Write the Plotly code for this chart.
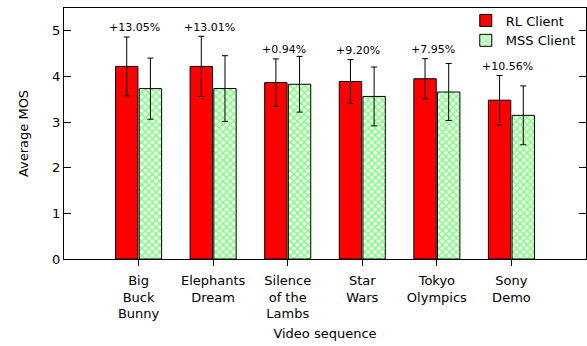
import plotly.graph_objects as go

# Average MOS per video sequence, with standard deviation
videos = ["Big<br>Buck<br>Bunny", "Elephants<br>Dream", "Silence<br>of the<br>Lambs",
          "Star<br>Wars", "Tokyo<br>Olympics", "Sony<br>Demo"]
positions = [1, 2, 3, 4, 5, 6]
rl_mos = [4.22, 4.22, 3.865, 3.89, 3.95, 3.48]
rl_std = [0.645, 0.66, 0.52, 0.48, 0.44, 0.54]
mss_mos = [3.733, 3.735, 3.829, 3.562, 3.659, 3.148]
mss_std = [0.67, 0.72, 0.61, 0.645, 0.625, 0.645]
gain_labels = ["+13.05%", "+13.01%", "+0.94%", "+9.20%", "+7.95%", "+10.56%"]

FONT = "DejaVu Sans"

fig = go.Figure()
fig.add_trace(go.Bar(
    x=positions, y=rl_mos, name="RL Client",
    marker=dict(color="#ff0000", line=dict(color="black", width=1)),
    error_y=dict(type="data", array=rl_std, color="black", thickness=1, width=3),
))
fig.add_trace(go.Bar(
    x=positions, y=mss_mos, name="MSS Client",
    marker=dict(color="white", line=dict(color="black", width=1),
                pattern=dict(shape="x", fgcolor="#00ff00", bgcolor="white",
                             size=5, solidity=0.5)),
    error_y=dict(type="data", array=mss_std, color="black", thickness=1, width=3),
))

# Relative improvement label above each RL error bar
for xp, m, s, txt in zip(positions, rl_mos, rl_std, gain_labels):
    fig.add_annotation(x=xp, y=m + s, text=txt, showarrow=False,
                       xshift=-4, yshift=9, yanchor="middle",
                       font=dict(family=FONT, size=11, color="black"))

fig.update_layout(
    width=587, height=346,
    margin=dict(l=64, r=1, t=8, b=87),
    paper_bgcolor="white", plot_bgcolor="white",
    font=dict(family=FONT, size=13, color="black"),
    barmode="group", bargap=0.365, bargroupgap=0.055,
    showlegend=True,
    legend=dict(x=0.99, y=1.01, xanchor="right", yanchor="top",
                bgcolor="rgba(0,0,0,0)", font=dict(family=FONT, size=13),
                tracegroupgap=0, itemwidth=30),
)
fig.update_xaxes(
    range=[0, 7], tickvals=positions, ticktext=videos,
    ticks="outside", ticklen=6, tickcolor="black", ticklabelstandoff=3,
    tickfont=dict(size=13),
    showline=True, linecolor="black", linewidth=1, mirror=True,
    showgrid=False, zeroline=False,
    title=dict(text="Video sequence", standoff=8, font=dict(size=13)),
)
fig.update_yaxes(
    range=[0, 5.5], tickvals=[0, 1, 2, 3, 4, 5],
    ticks="inside", ticklen=7, tickcolor="black", tickfont=dict(size=13),
    showline=True, linecolor="black", linewidth=1, mirror="ticks",
    showgrid=False, zeroline=False,
    title=dict(text="Average MOS", standoff=20, font=dict(size=13)),
)

fig.write_html("out.html")
